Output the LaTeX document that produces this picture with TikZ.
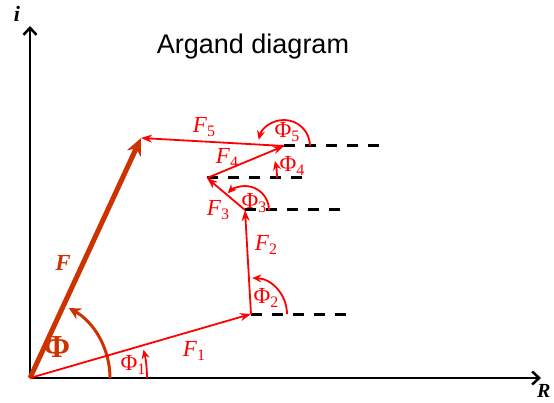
\documentclass[tikz,border=0pt]{standalone}
\usepackage{fontspec}
\setmainfont{Liberation Serif}
\newfontfamily\titlefont{Liberation Sans}
\usetikzlibrary{arrows.meta}
\definecolor{vecred}{RGB}{255,0,0}
\definecolor{resbrown}{RGB}{204,51,0}
% vector name with a lowered index
\newcommand{\vlab}[2]{#1\raisebox{-0.45ex}{\fontsize{16}{16}\selectfont #2}}

\begin{document}
\begin{tikzpicture}[
    x=1pt, y=1pt,
    % Styles for the vectors and angles
    vec/.style  = {-{Stealth[length=11pt,width=8pt]}, line width=1.8pt, draw=vecred},
    ang/.style  = {-{Stealth[length=9pt,width=8pt]}, line width=1.8pt, draw=vecred},
    res/.style  = {-{Stealth[length=17pt,width=15pt]}, line width=5pt, draw=resbrown},
    refl/.style = {line width=3pt, dash pattern=on 11pt off 10pt},
    axis/.style = {-{Straight Barb[length=7pt,width=13pt]}, line width=2.5pt},
    lab/.style  = {text=vecred, font=\fontsize{23}{23}\selectfont, inner sep=0pt}
  ]
  \useasboundingbox (0,0) rectangle (554,402);

  % ===== Axes =====
  \coordinate (O)  at (30,24);
  \coordinate (iy) at (30,376);
  \coordinate (rx) at (541,24);
  \draw[axis] (O) -- (iy);
  \draw[axis] (O) -- (rx);
  \node[font=\fontsize{22}{22}\selectfont\bfseries\itshape, inner sep=0pt] (li) at (17,388) {i};
  \node[font=\fontsize{20}{20}\selectfont\bfseries\itshape, inner sep=0pt, anchor=west] (lr) at (537,11) {R};

  \node[font=\titlefont\fontsize{27}{27}\selectfont, inner sep=0pt] (title) at (253,355) {Argand diagram};

  % ===== Head-to-tail points =====
  \coordinate (p1) at (251,88);
  \coordinate (p2) at (245,192);
  \coordinate (p3) at (207,224);
  \coordinate (p4) at (284,256);
  \coordinate (p5) at (141,264);

  % Horizontal reference lines
  \foreach \p/\x in {p1/348, p2/341, p3/302, p4/381}{
    \coordinate (d\p) at (\p -| \x,0);
    \draw[refl] (\p) -- (d\p);
  }

  % Resultant
  \draw[res] (O) -- (p5);
  \draw[-{Stealth[length=12pt,width=12pt]}, line width=3pt, draw=resbrown]
    (O) ++(80,0) arc[start angle=0, end angle=61, radius=80];
  \node[text=resbrown, font=\fontsize{32}{32}\selectfont\bfseries, inner sep=0pt] (lphi) at (57,55) {Φ};
  \node[text=resbrown, font=\fontsize{23}{23}\selectfont\bfseries\itshape, inner sep=0pt] (lf) at (63,139) {F};

  % Component vectors
  \draw[vec] (O)  -- (p1);
  \draw[vec] (p1) -- (p2);
  \draw[vec] (p2) -- (p3);
  \draw[vec] (p3) -- (p4);
  \draw[vec] (p4) -- (p5);

  % Angles
  \draw[ang] (O)  ++(117,0) arc[start angle=0, end angle=14, radius=117];
  \draw[ang] (p1) ++(36,0)  arc[start angle=0, end angle=88, radius=36];
  \draw[ang] (p2) ++(24,0)  arc[start angle=0, end angle=136, radius=24];
  \draw[ang] (p3) ++(70,0)  arc[start angle=0, end angle=14, radius=70];
  \draw[ang] (p4) ++(26,0)  arc[start angle=0, end angle=166, radius=26];

  % Labels
  \node[lab] (lf1) at (194,51)  {\vlab{\textit{F}}{1}};
  \node[lab] (lf2) at (266,157) {\vlab{\textit{F}}{2}};
  \node[lab] (lf3) at (218,192) {\vlab{\textit{F}}{3}};
  \node[lab] (lf4) at (227,244) {\vlab{\textit{F}}{4}};
  \node[lab] (lf5) at (204,275) {\vlab{\textit{F}}{5}};
  \node[lab] (la1) at (133,37)  {\vlab{Φ}{1}};
  \node[lab] (la2) at (266,104) {\vlab{Φ}{2}};
  \node[lab] (la3) at (254,199) {\vlab{Φ}{3}};
  \node[lab] (la4) at (292,236) {\vlab{Φ}{4}};
  \node[lab] (la5) at (287,270) {\vlab{Φ}{5}};
\end{tikzpicture}
\end{document}
